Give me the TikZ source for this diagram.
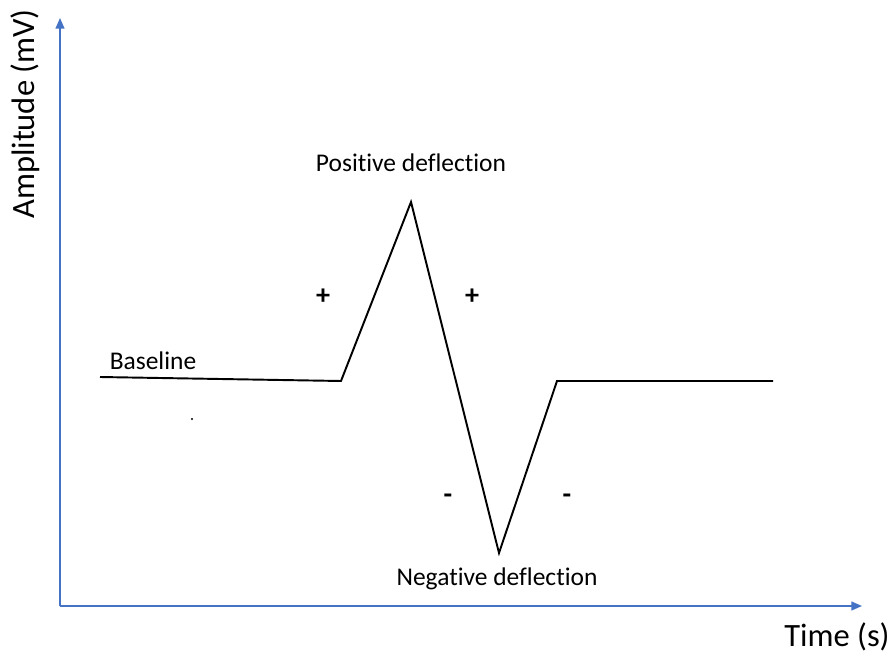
\documentclass[tikz,border=0pt]{standalone}
\usepackage{fontspec}
\setmainfont{Carlito}[Ligatures={NoCommon}]
\usetikzlibrary{positioning, calc, arrows.meta}
\definecolor{axisblue}{HTML}{4472C4}

\begin{document}
\begin{tikzpicture}[scale=1,
    axis/.style={axisblue, line width=0.9pt, -{Triangle[length=6pt,width=5pt]}},
    wave/.style={black, line width=1.1pt, line join=miter},
    lbl/.style={font=\fontsize{14.5}{16}\selectfont, inner sep=1pt},
    sgn/.style={font=\fontsize{16}{18}\selectfont\bfseries, inner sep=1pt}]
  \useasboundingbox (0,0) rectangle (17.92,13.18);
  % Axes
  \coordinate (O) at (1.2,1.06);
  \coordinate (xend) at (17.24,1.06);
  \coordinate (yend) at (1.2,12.82);
  \draw[axis] (O) -- (xend);
  \draw[axis] (O) -- (yend);
  \node[font=\fontsize{18.5}{21}\selectfont, rotate=90] (ylab) at (0.5,10.9) {Amplitude (mV)};
  \node[font=\fontsize{18.5}{21}\selectfont] (xlab) at (16.74,0.44) {Time (s)};
  % forma d'onda
  \coordinate (b0) at (2.0,5.64);
  \coordinate (b1) at (6.82,5.56);
  \coordinate (peak) at (8.22,9.14);
  \coordinate (trough) at (9.98,2.12);
  \coordinate (b2) at (11.14,5.56);
  \coordinate (b3) at (15.46,5.56);
  \draw[wave] (b0) -- (b1) -- (peak) -- (trough) -- (b2) -- (b3);
  % label
  \node[lbl] (pos) at (8.22,9.92) {Positive deflection};
  \node[lbl] (neg) at (9.94,1.6) {Negative deflection};
  \node[lbl] (base) at (3.06,5.96) {Baseline};
  \node[sgn] (p1) at (6.46,7.24) {+};
  \node[sgn] (p2) at (9.44,7.24) {+};
  \node[sgn] (m1) at (8.96,3.2) {-};
  \node[sgn] (m2) at (11.34,3.2) {-};
  \fill (3.84,4.8) circle (0.6pt);
\end{tikzpicture}
\end{document}
